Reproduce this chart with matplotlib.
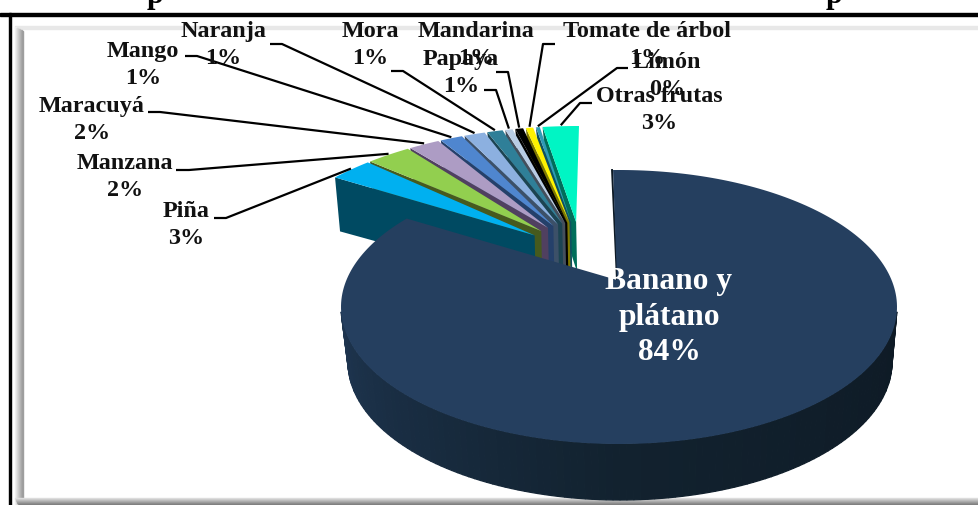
import numpy as np
import matplotlib
matplotlib.use("Agg")
import matplotlib.pyplot as plt
from matplotlib.patches import Polygon, Rectangle
from matplotlib.colors import to_rgb

# ---- data -----------------------------------------------------------------
categories = ["Banano y\nplátano", "Piña", "Manzana", "Maracuyá", "Mango", "Naranja",
              "Mora", "Papaya", "Mandarina", "Tomate de árbol", "Limón", "Otras frutas"]
values = [84.0, 2.7, 2.8, 2.0, 1.5, 1.4, 1.1, 0.6, 0.64, 0.6, 0.4, 2.25]
pct_labels = ["84%", "3%", "2%", "2%", "1%", "1%", "1%", "1%", "1%", "1%", "0%", "3%"]

# ---- styles and layout ----------------------------------------------------
top_colors = ["#253F5F", "#00B0F0", "#92CF4F", "#AD9CC4", "#4F86CF", "#8CB0E0",
              "#2F7F98", "#B8CCE4", "#000000", "#FFF200", "#2E9BB5", "#00F5C4"]
wall_colors = ["#14283C", "#004A62", "#465A1E", "#504060", "#25406A", "#3C5068",
               "#1C4452", "#444F5C", "#000000", "#807800", "#0F5060", "#006E5A"]
# name+pct label centres (x, y of block centre)
label_xy = [None, (186, 225), (125, 177), (92, 120), (143, 65), (223, 45),
            (370, 45), (461, 73), (476, 45), (647, 45), (667, 76), (659, 110)]
# leader: start of the line and elbow
leader_pts = [None, [(214, 218), (226, 218)], [(176, 170), (189, 170)], [(148, 112), (160, 112)],
              [(185, 56), (197, 56)], [(270, 44), (282, 44)], [(391, 71), (403, 71)],
              [(484, 90), (496, 90)], [(496, 72), (508, 72)], [(555, 44), (543, 44)],
              [(628, 68), (617, 68)], [(592, 103), (580, 103)]]
TITLE_FRAGMENTS = [(155, "p"), (834, "p")]
SERIF = "Liberation Serif"

FAN = dict(cx=579, cy=281, a=328, b=155, k=-0.2)
BAN = dict(cx=619, cy=307, a=278, b=137, k=-0.197)
BAN_BOTTOM = dict(cx=620, cy=362, a=272, b=138)
EXPL_C = (580, 256)
EXPL = (57, 34)
DEPTH = 50


def proj(phi_deg, cx, cy, a, b, k):
    """Perspective projection of a point on the rim of the unit pie."""
    p = np.radians(phi_deg)
    x, y = np.sin(p), -np.cos(p)
    den = 1 + k * y
    return cx + a * x * np.sqrt(1 - k * k) / den, cy + b * (y + k) / den


fig = plt.figure(figsize=(9.79, 5.05), dpi=100, facecolor="white")
ax = fig.add_axes([0, 0, 1, 1])
ax.set_xlim(0, 979)
ax.set_ylim(505, 0)
ax.axis("off")

# ---- frame ---------------------------------------------------------------
ax.add_patch(Rectangle((0, 13), 979, 2.5, color="black", zorder=1))
ax.add_patch(Rectangle((9, 13), 2.2, 492, color="black", zorder=1))
ax.add_patch(Rectangle((15, 26), 964, 2.5, color="#E8E8E8", zorder=1))
for i, g in enumerate(np.linspace(0.95, 0.62, 8)):
    ax.add_patch(Rectangle((15 + i, 27 + i * 0.5), 1.05, 478, color=(g, g, g), zorder=1))
for i, g in enumerate(np.linspace(0.88, 0.5, 7)):
    ax.add_patch(Rectangle((15 + i * 0.6, 498 + i), 964, 1.05, color=(g, g, g), zorder=1))

# ---- small slices --------------------------------------------------------
total = sum(values)
angles = np.cumsum([0] + values) / total * 360
rim_mid = {}
for i in range(len(values) - 1, 0, -1):
    s, e = angles[i] + 0.3, angles[i + 1] - 0.3
    if i == len(values) - 1:
        e = angles[i + 1]
    mid = np.radians(0.5 * (s + e))
    apex = (EXPL_C[0] + EXPL[0] * np.sin(mid), EXPL_C[1] - EXPL[1] * np.cos(mid))
    phis = np.linspace(s, e, 12)
    rim = [proj(p, **FAN) for p in phis]
    rim_mid[i] = proj(0.5 * (s + e), **FAN)
    R = rim[0]
    ax.add_patch(Polygon([R, apex, (apex[0] + 1, apex[1] + DEPTH), (R[0] + 5, R[1] + DEPTH + 4)],
                         closed=True, fc=wall_colors[i], ec="none", zorder=3))
    ax.add_patch(Polygon([apex] + rim, closed=True, fc=top_colors[i], ec="none", zorder=3))

# ---- big slice -----------------------------------------------------------
ts = np.linspace(92, 268, 121)
c_left, c_mid, c_right = map(lambda c: np.array(to_rgb(c)), ("#1E3550", "#12222F", "#0E1A25"))
for t0, t1 in zip(ts[:-1], ts[1:]):
    pts = []
    for t, par in ((t0, BAN), (t1, BAN), (t1, BAN_BOTTOM), (t0, BAN_BOTTOM)):
        r = np.radians(t)
        pts.append((par["cx"] + par["a"] * np.sin(r), par["cy"] - par["b"] * np.cos(r)))
    f = (t0 - 92) / 176
    col = c_right + (c_mid - c_right) * f * 2 if f < 0.5 else c_mid + (c_left - c_mid) * (f - 0.5) * 2
    ax.add_patch(Polygon(pts, closed=True, fc=col, ec=col, lw=0.9, zorder=4))

apex_xy = (BAN["cx"] - 2, BAN["cy"] + BAN["b"] * BAN["k"])
ban_rim = [proj(p, **BAN) for p in np.linspace(-1.5, angles[1] - 1.5, 240)]
ax.add_patch(Polygon([apex_xy] + ban_rim, closed=True, fc=top_colors[0], ec="none", zorder=5))
ax.plot([ban_rim[0][0] - 1, apex_xy[0]], [ban_rim[0][1], apex_xy[1]], color="#0E1A25", lw=1.4, zorder=4.5)

# ---- leaders and labels --------------------------------------------------
for i in range(1, len(values)):
    (x0, y0), (x1, y1) = leader_pts[i]
    xe, ye = rim_mid[i]
    ax.plot([x0, x1, xe], [y0, y1, ye - 1], color="black", lw=1.6, zorder=6, solid_capstyle="butt")
    ax.text(*label_xy[i], f"{categories[i]}\n{pct_labels[i]}", ha="center", va="center", family=SERIF,
            fontweight="bold", fontsize=17.4, color="#111111", linespacing=1.37, zorder=7)

ax.text(669, 317, f"{categories[0]}\n{pct_labels[0]}", ha="center", va="center", family=SERIF,
        fontweight="bold", fontsize=22.7, color="white", linespacing=1.29, zorder=7)

for x, s in TITLE_FRAGMENTS:
    ax.text(x, 3, s, ha="center", va="baseline", family=SERIF, fontweight="bold", fontsize=22, color="black", zorder=7)

fig.savefig("out.png", dpi=100, facecolor="white")
